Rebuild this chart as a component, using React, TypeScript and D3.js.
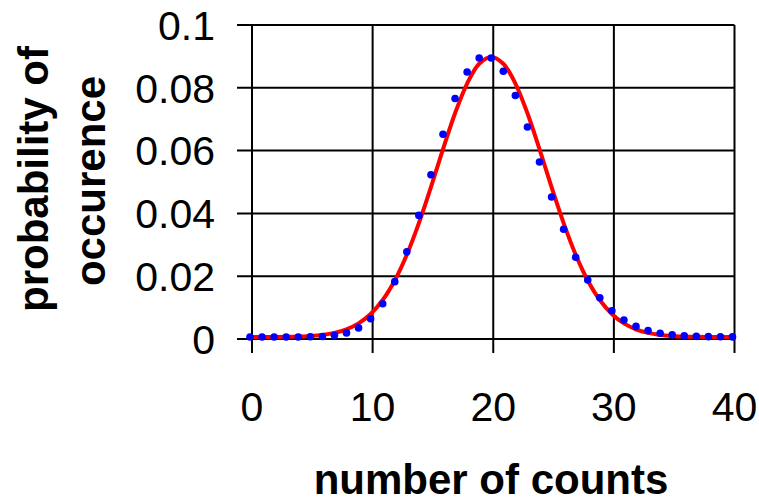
import React from "react";
import * as d3 from "d3";

// Observed counts 0..40 and their probabilities (Poisson-like, mean 20)
const counts: number[] = Array.from({ length: 41 }, (_, i) => i);
const observed: number[] = [
  0, 0, 0, 0, 0.00001, 0.00006, 0.00018, 0.00052, 0.00131, 0.0029,
  0.00581, 0.01057, 0.01762, 0.02711, 0.03873, 0.05165, 0.06456, 0.07595, 0.08439, 0.08884,
  0.08884, 0.08461, 0.07691, 0.06688, 0.05573, 0.04459, 0.0343, 0.02541, 0.01815, 0.01252,
  0.00834, 0.00538, 0.00337, 0.00204, 0.0012, 0.00069, 0.00038, 0.00021, 0.00011, 0.00006,
  0.00003,
];
// Fitted curve values at the same counts
const fitted: number[] = [
  0.0, 0.00001, 0.00003, 0.00006, 0.00015, 0.00032, 0.00066, 0.0013, 0.00244, 0.00433,
  0.00732, 0.01178, 0.01801, 0.02621, 0.03627, 0.04775, 0.0598, 0.07124, 0.08072, 0.08701,
  0.08921, 0.08701, 0.08072, 0.07124, 0.0598, 0.04775, 0.03627, 0.02621, 0.01801, 0.01178,
  0.00732, 0.00433, 0.00244, 0.0013, 0.00066, 0.00032, 0.00015, 0.00006, 0.00003, 0.00001,
  0.0,
];
const xTicks: number[] = [0, 10, 20, 30, 40];
const yTicks: number[] = [0, 0.02, 0.04, 0.06, 0.08, 0.1];
const yTickLabels: string[] = ["0", "0.02", "0.04", "0.06", "0.08", "0.1"];

const FONT = "'Liberation Sans', Arial, Helvetica, sans-serif";

export default function App() {
  const width = 759;
  const height = 498;
  const x = d3.scaleLinear().domain([0, 40]).range([252, 734.5]);
  const y = d3.scaleLinear().domain([0, 0.1]).range([339, 25]);

  const line = d3
    .line<number>()
    .x((_, i) => x(counts[i]))
    .y((d) => y(d))
    .curve(d3.curveCatmullRom.alpha(0.5));

  return (
    <svg
      width={width}
      height={height}
      style={{ position: "absolute", left: 0, top: 0, background: "#fff" }}
    >
      <rect width={width} height={height} fill="#fff" />
      {/* grid */}
      <g stroke="#000" strokeWidth={2}>
        {xTicks.map((t) => (
          <line key={"vx" + t} x1={x(t)} x2={x(t)} y1={y(0.1)} y2={y(0) + 14} />
        ))}
        {yTicks.map((t) => (
          <line key={"hy" + t} x1={x(0) - 15} x2={x(40)} y1={y(t)} y2={y(t)} />
        ))}
      </g>
      {/* series */}
      <g transform="translate(-2,-2)">
        <path
          d={line(fitted) || ""}
          fill="none"
          stroke="#ff0000"
          strokeWidth={4}
          strokeLinecap="square"
        />
        {observed.map((v, i) => (
          <circle key={"p" + i} cx={x(counts[i])} cy={y(v)} r={3.8} fill="#0000ff" />
        ))}
      </g>
      {/* y tick labels */}
      <g fontFamily={FONT} fontSize={41} fill="#000">
        {yTicks.map((t, i) => (
          <text key={"yl" + t} x={215} y={y(t)} dy="0.36em" textAnchor="end">
            {yTickLabels[i]}
          </text>
        ))}
        {xTicks.map((t) => (
          <text key={"xl" + t} x={x(t)} y={421} textAnchor="middle">
            {t}
          </text>
        ))}
      </g>
      {/* axis titles */}
      <text
        x={491}
        y={494}
        textAnchor="middle"
        fontFamily={FONT}
        fontSize={42}
        fontWeight="bold"
      >
        number of counts
      </text>
      <text
        transform="translate(48,179) rotate(-90)"
        textAnchor="middle"
        fontFamily={FONT}
        fontSize={42}
        fontWeight="bold"
      >
        probability of
      </text>
      <text
        transform="translate(105,181) rotate(-90)"
        textAnchor="middle"
        fontFamily={FONT}
        fontSize={42}
        fontWeight="bold"
      >
        occurence
      </text>
    </svg>
  );
}
